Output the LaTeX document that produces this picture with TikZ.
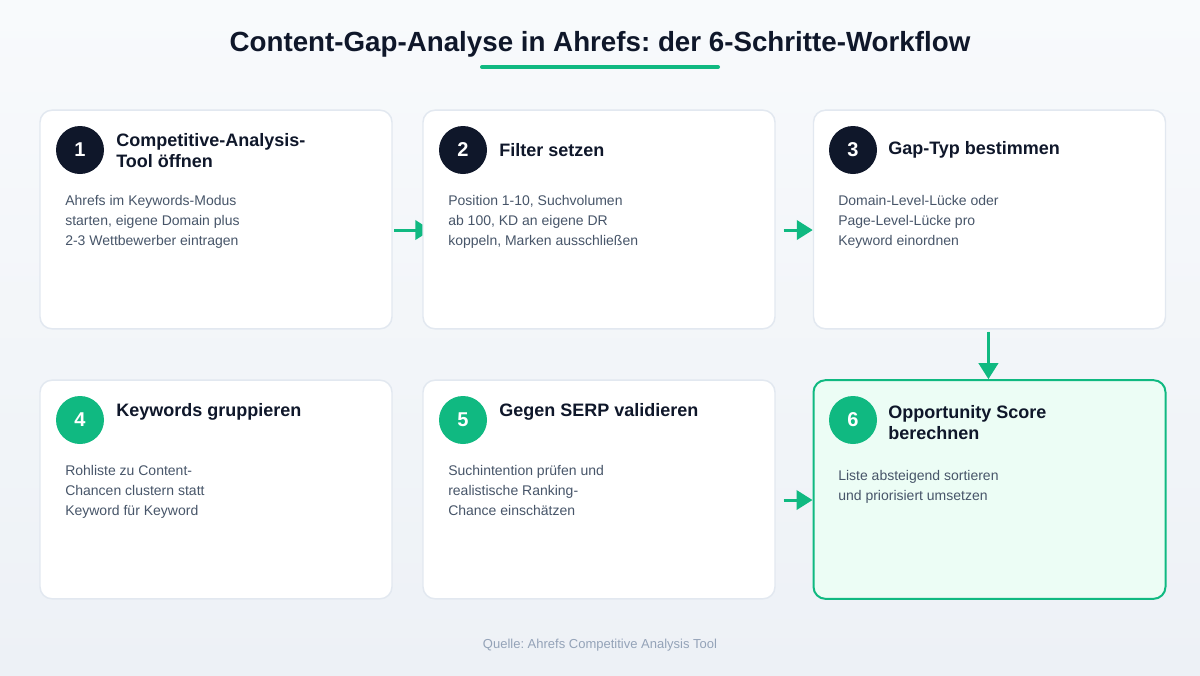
\documentclass[tikz,border=0pt]{standalone}
\usepackage{fontspec}
\setmainfont{Liberation Sans}
\usetikzlibrary{positioning,arrows.meta,backgrounds}
\frenchspacing

\definecolor{bgtop}{HTML}{F8FAFC}
\definecolor{bgbottom}{HTML}{EDF1F6}
\definecolor{ink}{HTML}{0F172A}
\definecolor{bodytxt}{HTML}{475569}
\definecolor{cardline}{HTML}{E2E8F0}
\definecolor{accent}{HTML}{10B981}
\definecolor{accentbg}{HTML}{ECFDF5}
\definecolor{footnote}{HTML}{94A3B8}

\tikzset{
  headline/.style={text=ink, font=\fontsize{20.8}{25}\selectfont\bfseries, inner sep=0pt},
  card/.style={draw=cardline, line width=1.1pt, fill=white, rounded corners=9pt,
    minimum width=264pt, minimum height=164pt, inner sep=0pt},
  cardhi/.style={card, draw=accent, fill=accentbg, line width=1.5pt},
  numdark/.style={circle, fill=ink, text=white, minimum size=36pt, inner sep=0pt,
    font=\fontsize{15}{18}\selectfont\bfseries},
  numgreen/.style={numdark, fill=accent},
  steptitle/.style={anchor=west, align=left, text=ink, inner sep=0pt,
    font=\fontsize{13.5}{15.75}\selectfont\bfseries},
  stepbody/.style={anchor=north west, align=left, text=bodytxt, inner sep=0pt,
    font=\fontsize{10.5}{15}\selectfont},
  flow/.style={-{Triangle[length=12pt,width=14.5pt]}, draw=accent, fill=accent, line width=2.2pt}
}

\begin{document}
\begin{tikzpicture}[x=0.75pt,y=-0.75pt]
\useasboundingbox (0,0) rectangle (1200,675);
% background
\begin{scope}[on background layer]
\shade[top color=bgtop, bottom color=bgbottom] (0,0) rectangle (1200,675);
\end{scope}

% title
\node[headline] (head) at (600,44) {Content-Gap-Analyse in Ahrefs: der 6-Schritte-Workflow};
\draw[accent, line width=3pt, line cap=round] (482,67) -- (718,67);

% row 1
\node[card] (c1) at (216,219.5) {};
\node[card] (c2) at (599,219.5) {};
\node[card] (c3) at (989.5,219.5) {};

% row 2
\node[card] (c4) at (216,489.5) {};
\node[card] (c5) at (599,489.5) {};
\node[cardhi] (c6) at (989.5,489.5) {};

% step 1
\node[numdark] (n1) at (80,150) {1};
\node[steptitle] (t1) at (116,150.5) {Competitive-Analysis-\\Tool öffnen};
\node[stepbody] (b1) at (65,195) {Ahrefs im Keywords-Modus\\starten, eigene Domain plus\\2-3 Wettbewerber eintragen};

% step 2
\node[numdark] (n2) at (463,150) {2};
\node[steptitle] (t2) at (499,150) {Filter setzen};
\node[stepbody] (b2) at (448,195) {Position 1-10, Suchvolumen\\ab 100, KD an eigene DR\\koppeln, Marken ausschließen};

% step 3
\node[numdark] (n3) at (853,150) {3};
\node[steptitle] (t3) at (888,150) {Gap-Typ bestimmen};
\node[stepbody] (b3) at (838,195) {Domain-Level-Lücke oder\\Page-Level-Lücke pro\\Keyword einordnen};

% step 4
\node[numgreen] (n4) at (80,420) {4};
\node[steptitle] (t4) at (116,412) {Keywords gruppieren};
\node[stepbody] (b4) at (65,465) {Rohliste zu Content-\\Chancen clustern statt\\Keyword für Keyword};

% step 5
\node[numgreen] (n5) at (463,420) {5};
\node[steptitle] (t5) at (499,412) {Gegen SERP validieren};
\node[stepbody] (b5) at (448,465) {Suchintention prüfen und\\realistische Ranking-\\Chance einschätzen};

% step 6
\node[numgreen] (n6) at (853,420) {6};
\node[steptitle] (t6) at (888,422.5) {Opportunity Score\\berechnen};
\node[stepbody] (b6) at (838,470) {Liste absteigend sortieren\\und priorisiert umsetzen};

% arrows between the steps (a bit below the card middle)
\begin{scope}[on background layer]
\draw[flow] ([xshift=1pt,yshift=-7.9pt]c1.east) -- ([xshift=6.75pt,yshift=-7.9pt]c2.west);
\draw[flow] ([xshift=6pt,yshift=-7.9pt]c2.east) -- ([yshift=-7.9pt]c3.west);
\draw[flow] ([xshift=-0.8pt,yshift=-1.5pt]c3.south) -- ([xshift=-0.8pt]c6.north);
\draw[flow] ([xshift=6pt,yshift=-7.9pt]c5.east) -- ([yshift=-7.9pt]c6.west);
\end{scope}

% source
\node[text=footnote, font=\fontsize{9.75}{12}\selectfont] (src) at (600,645) {Quelle: Ahrefs Competitive Analysis Tool};
\end{tikzpicture}
\end{document}
